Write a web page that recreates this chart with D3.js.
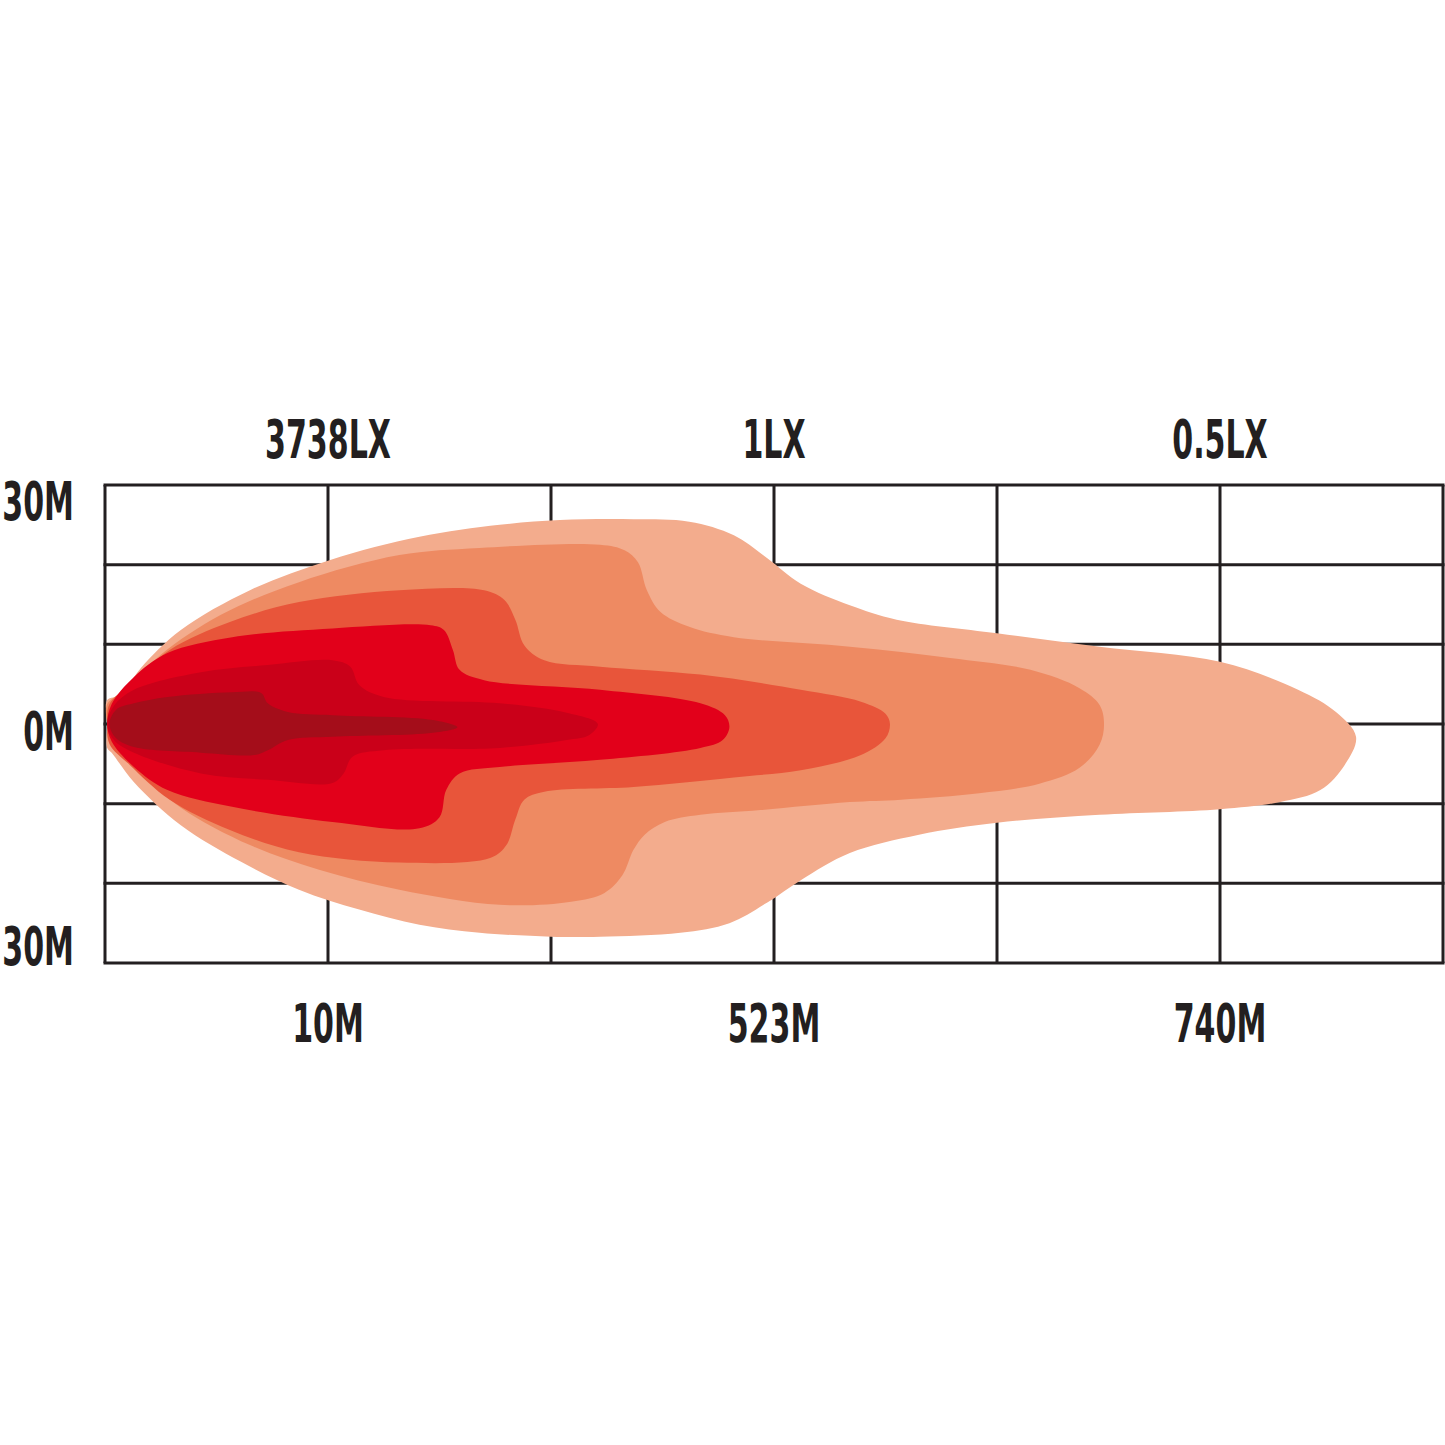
<!DOCTYPE html>
<html>
<head>
<meta charset="utf-8">
<script src="https://cdn.jsdelivr.net/npm/d3@7"></script>
<style>
  html, body { margin: 0; padding: 0; background: #ffffff; }
  svg { display: block; }
  text { font-family: "Liberation Sans Narrow", "DejaVu Sans Condensed", sans-serif; font-weight: bold; fill: #231f20; }
</style>
</head>
<body>
<svg id="chart" width="1445" height="1445"></svg>
<script>
// ---- DATA ----
// x: distance in grid columns (0..6), y: lateral spread in metres (-30..30)
const gridCols = [0, 1, 2, 3, 4, 5, 6];
const gridRows = [-30, -20, -10, 0, 10, 20, 30];

const topLabels = ["3738LX", "1LX", "0.5LX"];
const bottomLabels = ["10M", "523M", "740M"];
const labelCols = [1, 3, 5];
const sideLabels = ["30M", "0M", "30M"];
const sideValues = [30, 0, -30];

// iso-lux contours (outermost first)
const zone1 = [[0.01,0],[0.01,3],[0.07,3.6],[0.16,7.0],[0.34,11.8],[0.65,16.8],[1.01,20.6],[1.41,23.5],[1.77,25.0],[2.04,25.6],[2.37,25.7],[2.62,25.4],[2.82,23.7],[2.97,20.8],[3.12,17.6],[3.34,14.9],[3.55,13.1],[4.00,11.4],[4.46,9.7],[5.00,7.8],[5.35,4.3],[5.52,1.5],[5.61,-1.6],[5.56,-5.1],[5.45,-8.3],[5.27,-9.8],[5.00,-10.7],[4.46,-11.4],[4.00,-12.4],[3.65,-13.9],[3.34,-16.2],[3.12,-19.6],[2.97,-22.4],[2.80,-25.0],[2.58,-26.2],[2.22,-26.7],[2.00,-26.7],[1.68,-26.2],[1.41,-25.2],[1.14,-23.3],[0.87,-20.8],[0.61,-17.3],[0.34,-12.7],[0.13,-7.3],[0.03,-3.6],[0.01,-3]];
const zone2 = [[0.01,0],[0.01,2.5],[0.09,4.3],[0.25,8.7],[0.52,13.7],[0.87,17.8],[1.32,21.2],[1.68,22.1],[2.22,22.5],[2.33,21.8],[2.39,20.3],[2.43,16.8],[2.49,14.1],[2.62,12.2],[2.82,10.9],[3.34,9.7],[3.79,8.3],[4.15,6.8],[4.37,4.5],[4.46,2.4],[4.48,0],[4.46,-2.6],[4.37,-5.5],[4.19,-7.5],[3.92,-8.7],[3.57,-9.5],[3.34,-9.8],[2.94,-10.8],[2.67,-11.4],[2.51,-12.3],[2.42,-13.9],[2.37,-15.8],[2.32,-19.0],[2.24,-21.2],[2.09,-22.3],[1.77,-22.7],[1.32,-20.8],[0.96,-18.3],[0.65,-15.2],[0.34,-10.5],[0.13,-5.5],[0.03,-2.6]];
const zone3 = [[0.01,0],[0.02,2.5],[0.11,4.9],[0.29,9.3],[0.56,12.8],[0.87,15.3],[1.32,16.8],[1.70,16.8],[1.79,15.6],[1.84,13.1],[1.88,9.9],[1.97,8.0],[2.22,7.2],[2.67,6.2],[3.12,4.3],[3.39,2.8],[3.50,1.3],[3.52,0],[3.50,-1.8],[3.39,-3.9],[3.12,-5.8],[2.82,-6.7],[2.37,-7.9],[1.97,-8.5],[1.88,-9.5],[1.84,-12.0],[1.80,-15.2],[1.73,-16.8],[1.32,-17.4],[0.87,-16.1],[0.56,-13.3],[0.29,-9.5],[0.11,-5.1],[0.02,-2.5]];
const zone4 = [[0.01,0],[0.03,2.5],[0.13,5.9],[0.28,8.9],[0.57,10.9],[1.02,12.0],[1.46,12.4],[1.52,11.8],[1.56,9.3],[1.59,6.8],[1.70,5.5],[2.22,4.3],[2.67,2.6],[2.78,1.1],[2.80,-0.4],[2.77,-2.0],[2.67,-3.0],[2.22,-4.5],[1.77,-5.4],[1.59,-6.2],[1.53,-8.3],[1.50,-11.7],[1.41,-13.1],[1.02,-12.3],[0.57,-10.4],[0.28,-8.3],[0.13,-5.4],[0.03,-2.2]];
const zone5 = [[0.01,0],[0.04,2.3],[0.13,4.3],[0.43,6.5],[0.73,7.4],[1.02,8.0],[1.10,7.2],[1.14,4.9],[1.25,3.4],[1.77,2.6],[2.07,1.4],[2.21,0],[2.17,-1.4],[2.07,-2.0],[1.77,-3.0],[1.25,-3.3],[1.11,-4.1],[1.07,-6.2],[1.02,-7.4],[0.73,-7.0],[0.43,-6.2],[0.13,-3.6],[0.04,-2.0]];
const zone6 = [[0.02,0],[0.05,1.8],[0.13,2.6],[0.28,3.4],[0.57,4.0],[0.70,3.9],[0.73,2.6],[0.82,1.5],[1.02,1.1],[1.47,0.5],[1.58,-0.4],[1.47,-1.1],[1.02,-1.6],[0.82,-2.0],[0.73,-3.3],[0.67,-3.9],[0.43,-3.6],[0.13,-2.9],[0.05,-1.8]];

const zones = [zone1, zone2, zone3, zone4, zone5, zone6];
const zoneColors = ["#f3ac8d", "#ee8a62", "#e8553a", "#e2001a", "#ca0019", "#a40d1a"];

// ---- DRAW ----
const svg = d3.select("#chart");
const x = d3.scaleLinear().domain([0, 6]).range([105, 1443]);
const y = d3.scaleLinear().domain([-30, 30]).range([963, 485]);

const gridG = svg.append("g");
gridG.selectAll("line.v").data(gridCols).join("line").attr("class", "v")
  .attr("x1", d => x(d)).attr("x2", d => x(d))
  .attr("y1", y(30)).attr("y2", y(-30))
  .attr("stroke", "#231f20").attr("stroke-width", 3);
gridG.selectAll("line.h").data(gridRows).join("line").attr("class", "h")
  .attr("x1", x(0) - 1.5).attr("x2", x(6) + 1.5)
  .attr("y1", d => y(d)).attr("y2", d => y(d))
  .attr("stroke", "#231f20").attr("stroke-width", 3);

const line = d3.line()
  .x(d => x(d[0]))
  .y(d => y(d[1]))
  .curve(d3.curveCatmullRomClosed.alpha(0.5));

svg.append("g").selectAll("path").data(zones).join("path")
  .attr("d", d => line(d))
  .attr("fill", (d, i) => zoneColors[i]);

const condense = 0.63;
const fs = 53;
function label(txt, cx, by, anchor) {
  svg.append("text")
    .attr("transform", `translate(${cx},${by}) scale(${condense},1)`)
    .attr("text-anchor", anchor)
    .attr("font-size", fs)
    .text(txt);
}
labelCols.forEach((c, i) => {
  label(topLabels[i], x(c), y(30) - 27, "middle");
  label(bottomLabels[i], x(c), y(-30) + 79, "middle");
});
const sideOffsets = [35, 26, 2];
sideValues.forEach((v, i) => {
  label(sideLabels[i], 74, y(v) + sideOffsets[i], "end");
});
</script>
</body>
</html>
